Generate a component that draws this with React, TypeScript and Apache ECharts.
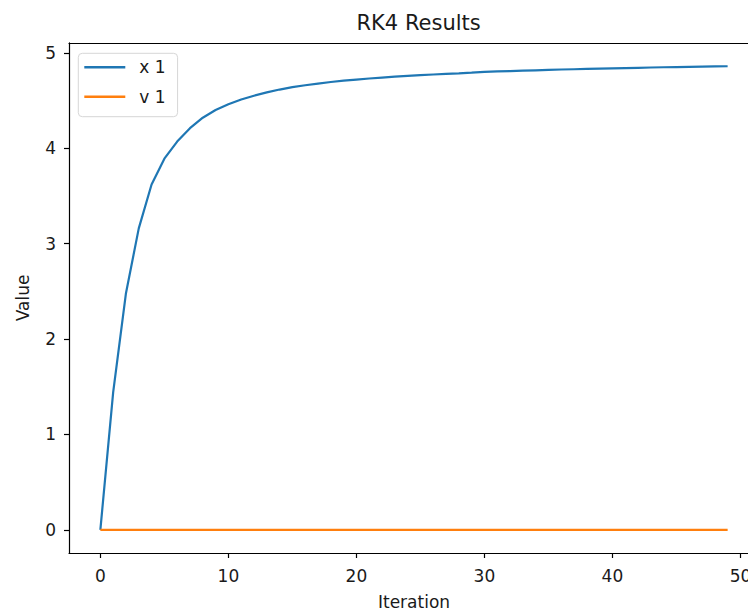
import React, { useEffect, useRef } from "react";
import * as echarts from "echarts";

const iterations: number[] = Array.from({ length: 50 }, (_, i) => i);

const x1Values: number[] = [
  0, 1.44, 2.48, 3.16, 3.62, 3.89, 4.07, 4.21, 4.32, 4.4,
  4.46, 4.51, 4.55, 4.585, 4.615, 4.64, 4.66, 4.678, 4.694, 4.708,
  4.72, 4.731, 4.741, 4.75, 4.758, 4.766, 4.773, 4.779, 4.785, 4.792,
  4.8, 4.805, 4.809, 4.813, 4.817, 4.821, 4.825, 4.828, 4.831, 4.834,
  4.837, 4.84, 4.843, 4.846, 4.849, 4.851, 4.853, 4.855, 4.857, 4.859,
];

const v1Values: number[] = [
  0, 0, 0, 0, 0, 0, 0, 0, 0, 0,
  0, 0, 0, 0, 0, 0, 0, 0, 0, 0,
  0, 0, 0, 0, 0, 0, 0, 0, 0, 0,
  0, 0, 0, 0, 0, 0, 0, 0, 0, 0,
  0, 0, 0, 0, 0, 0, 0, 0, 0, 0,
];

const xTicks: number[] = [0, 10, 20, 30, 40, 50];
const yTicks: number[] = [0, 1, 2, 3, 4, 5];

const FONT = "DejaVu Sans";

export default function App() {
  const ref = useRef<HTMLDivElement>(null);

  useEffect(() => {
    if (!ref.current) return;
    const chart = echarts.init(ref.current, undefined, { renderer: "svg" });

    const axisText = { fontFamily: FONT, fontSize: 17, color: "#1a1a1a" };

    chart.setOption({
      animation: false,
      backgroundColor: "#ffffff",
      title: {
        text: "RK4 Results",
        left: 413.6,
        top: 7,
        textAlign: "center",
        textStyle: { fontFamily: FONT, fontSize: 21, fontWeight: "normal", color: "#1a1a1a" },
      },
      grid: { left: 69, right: 1, top: 42.9, bottom: 61.3, containLabel: false },
      legend: {
        orient: "vertical",
        left: 78.3,
        top: 53.3,
        icon: "rect",
        itemWidth: 41,
        itemHeight: 2.5,
        itemGap: 9.4,
        padding: [4, 12, 10, 6],
        backgroundColor: "rgba(255,255,255,0.8)",
        borderColor: "#d6d6d6",
        borderWidth: 1,
        borderRadius: 4,
        textStyle: { fontFamily: FONT, fontSize: 17, color: "#1a1a1a", lineHeight: 20, padding: [0, 0, 0, 9] },
        data: ["x 1", "v 1"],
      },
      xAxis: [
        {
          type: "value",
          min: -2.45,
          max: 51.45,
          position: "bottom",
          name: "Iteration",
          nameLocation: "middle",
          nameGap: 40,
          nameTextStyle: { fontFamily: FONT, fontSize: 17, color: "#1a1a1a" },
          axisLine: { show: true, onZero: false, lineStyle: { color: "#000", width: 1.2 } },
          axisTick: { show: true, length: 5, lineStyle: { color: "#000", width: 1.2 }, customValues: xTicks },
          axisLabel: { ...axisText, margin: 14, customValues: xTicks },
          splitLine: { show: false },
        },
        {
          type: "value",
          min: -2.45,
          max: 51.45,
          position: "top",
          axisLine: { show: true, onZero: false, lineStyle: { color: "#000", width: 1.2 } },
          axisTick: { show: false },
          axisLabel: { show: false },
          splitLine: { show: false },
        },
      ],
      yAxis: {
        type: "value",
        min: -0.243,
        max: 5.104,
        name: "Value",
        nameLocation: "middle",
        nameGap: 38,
        nameRotate: 90,
        nameTextStyle: { fontFamily: FONT, fontSize: 17, color: "#1a1a1a" },
        axisLine: { show: true, onZero: false, lineStyle: { color: "#000", width: 1.2 } },
        axisTick: { show: true, length: 5, lineStyle: { color: "#000", width: 1.2 }, customValues: yTicks },
        axisLabel: { ...axisText, margin: 13, customValues: yTicks },
        splitLine: { show: false },
      },
      series: [
        {
          name: "x 1",
          type: "line",
          xAxisIndex: 0,
          data: iterations.map((it, i) => [it, x1Values[i]]),
          showSymbol: false,
          symbol: "none",
          lineStyle: { color: "#1f77b4", width: 2.2 },
          itemStyle: { color: "#1f77b4" },
        },
        {
          name: "v 1",
          type: "line",
          xAxisIndex: 0,
          data: iterations.map((it, i) => [it, v1Values[i]]),
          showSymbol: false,
          symbol: "none",
          lineStyle: { color: "#ff7f0e", width: 2.2 },
          itemStyle: { color: "#ff7f0e" },
        },
      ],
    });

    return () => chart.dispose();
  }, []);

  return (
    <div style={{ position: "fixed", left: 0, top: 0, width: 748, height: 615, overflow: "hidden" }}>
      <div ref={ref} style={{ width: 760, height: 615 }} />
    </div>
  );
}
